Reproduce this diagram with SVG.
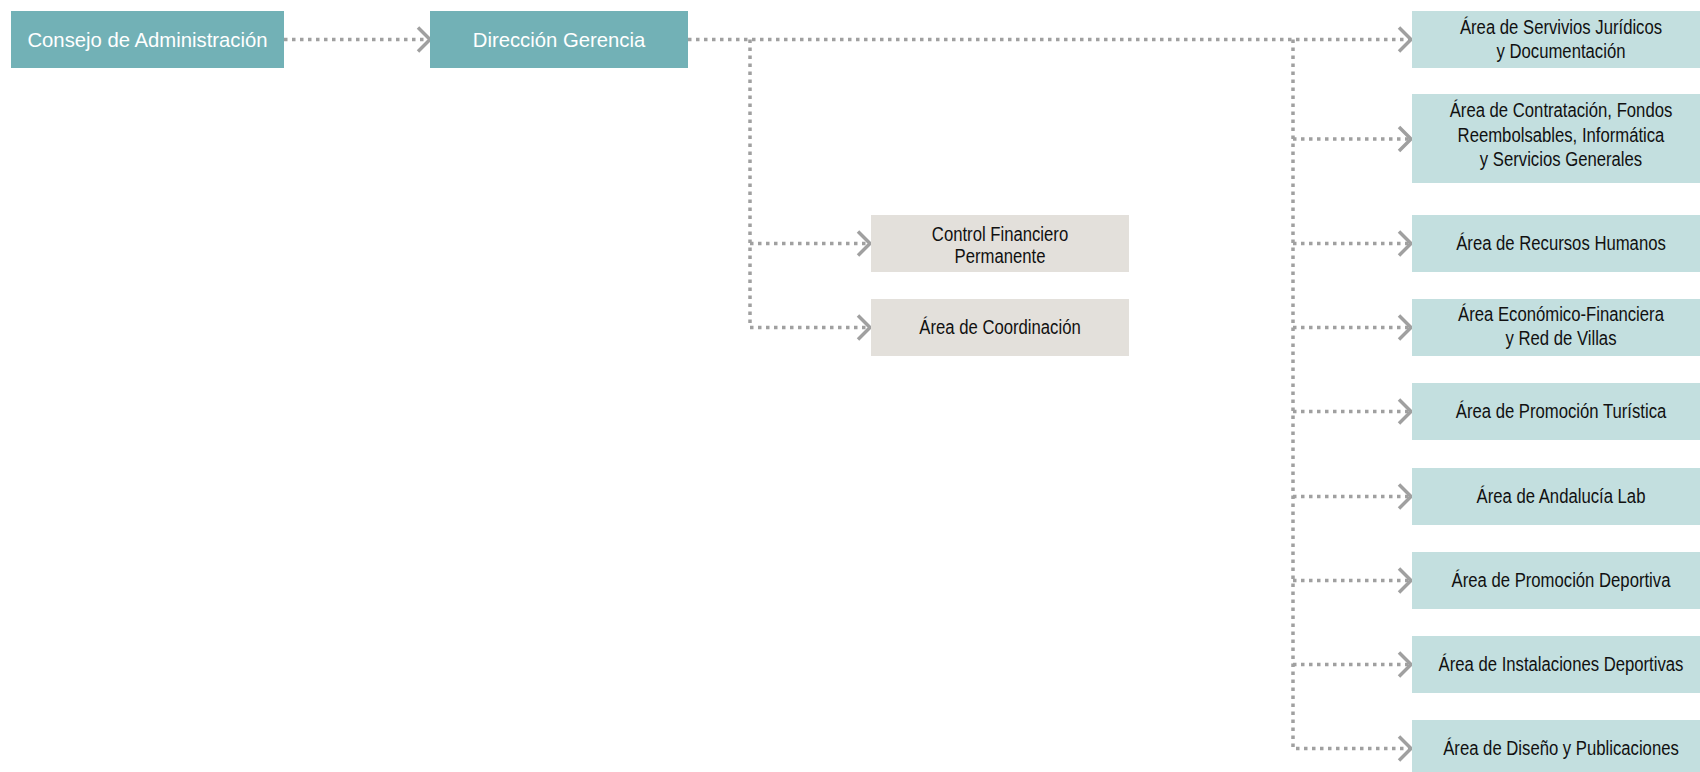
<svg xmlns="http://www.w3.org/2000/svg" width="1700" height="772" viewBox="0 0 1700 772">
<style>
.dark{fill:#72b1b6}
.light{fill:#c3dfdf}
.beige{fill:#e3e0db}
.tw{font-family:"Liberation Sans",Arial,sans-serif;font-size:20.3px;fill:#ffffff;text-anchor:middle}
.tb{font-family:"Liberation Sans",Arial,sans-serif;font-size:20px;fill:#111111;text-anchor:middle}
.c{fill:none;stroke:#a0a0a0;stroke-width:3.5;stroke-dasharray:3.5 4.5}
</style>
<defs>
<marker id="chev" markerUnits="userSpaceOnUse" markerWidth="20" markerHeight="30" viewBox="-2 -2 20 30" refX="13" refY="12" orient="auto">
<path d="M1,0 L13,12 L1,24" fill="none" stroke="#a0a0a0" stroke-width="3.5"/>
</marker>
</defs>
<rect width="1700" height="772" fill="#ffffff"/>
<g id="connectors">
<path class="c" d="M284,39.5 H430" marker-end="url(#chev)"/>
<path class="c" d="M688,39.5 H1411" marker-end="url(#chev)"/>
<path class="c" d="M750,39.5 V327.5 H870" marker-end="url(#chev)"/>
<path class="c" d="M750,243.5 H870" marker-end="url(#chev)"/>
<path class="c" d="M1293,39.5 V748.5 H1411" marker-end="url(#chev)"/>
<path class="c" d="M1293,139 H1411" marker-end="url(#chev)"/>
<path class="c" d="M1293,243.5 H1411" marker-end="url(#chev)"/>
<path class="c" d="M1293,327.5 H1411" marker-end="url(#chev)"/>
<path class="c" d="M1293,411.5 H1411" marker-end="url(#chev)"/>
<path class="c" d="M1293,496.5 H1411" marker-end="url(#chev)"/>
<path class="c" d="M1293,580.5 H1411" marker-end="url(#chev)"/>
<path class="c" d="M1293,664.5 H1411" marker-end="url(#chev)"/>
</g>
<g id="consejo"><rect class="dark" x="11" y="11" width="273" height="57"/><text class="tw" x="147.5" y="46.5">Consejo de Administración</text></g>
<g id="direccion"><rect class="dark" x="430" y="11" width="258" height="57"/><text class="tw" x="559" y="46.5">Dirección Gerencia</text></g>
<g id="control"><rect class="beige" x="871" y="215" width="258" height="57"/><text class="tb" transform="matrix(0.835,0,0,1,1000,0)" x="0" y="241">Control Financiero</text><text class="tb" transform="matrix(0.835,0,0,1,1000,0)" x="0" y="263">Permanente</text></g>
<g id="coordinacion"><rect class="beige" x="871" y="299" width="258" height="57"/><text class="tb" transform="matrix(0.835,0,0,1,1000,0)" x="0" y="334">Área de Coordinación</text></g>
<g id="juridicos"><rect class="light" x="1412" y="11" width="288" height="57"/><text class="tb" transform="matrix(0.835,0,0,1,1561,0)" x="0" y="34">Área de Servivios Jurídicos</text><text class="tb" transform="matrix(0.835,0,0,1,1561,0)" x="0" y="58">y Documentación</text></g>
<g id="contratacion"><rect class="light" x="1412" y="94" width="288" height="89"/><text class="tb" transform="matrix(0.835,0,0,1,1561,0)" x="0" y="117.5">Área de Contratación, Fondos</text><text class="tb" transform="matrix(0.835,0,0,1,1561,0)" x="0" y="142">Reembolsables, Informática</text><text class="tb" transform="matrix(0.835,0,0,1,1561,0)" x="0" y="166">y Servicios Generales</text></g>
<g id="rrhh"><rect class="light" x="1412" y="215" width="288" height="57"/><text class="tb" transform="matrix(0.835,0,0,1,1561,0)" x="0" y="250">Área de Recursos Humanos</text></g>
<g id="economico"><rect class="light" x="1412" y="299" width="288" height="57"/><text class="tb" transform="matrix(0.835,0,0,1,1561,0)" x="0" y="321">Área Económico-Financiera</text><text class="tb" transform="matrix(0.835,0,0,1,1561,0)" x="0" y="345">y Red de Villas</text></g>
<g id="turistica"><rect class="light" x="1412" y="383" width="288" height="57"/><text class="tb" transform="matrix(0.835,0,0,1,1561,0)" x="0" y="418">Área de Promoción Turística</text></g>
<g id="lab"><rect class="light" x="1412" y="468" width="288" height="57"/><text class="tb" transform="matrix(0.835,0,0,1,1561,0)" x="0" y="503">Área de Andalucía Lab</text></g>
<g id="deportiva"><rect class="light" x="1412" y="552" width="288" height="57"/><text class="tb" transform="matrix(0.835,0,0,1,1561,0)" x="0" y="587">Área de Promoción Deportiva</text></g>
<g id="instalaciones"><rect class="light" x="1412" y="636" width="288" height="57"/><text class="tb" transform="matrix(0.835,0,0,1,1561,0)" x="0" y="671">Área de Instalaciones Deportivas</text></g>
<g id="diseno"><rect class="light" x="1412" y="720" width="288" height="52"/><text class="tb" transform="matrix(0.835,0,0,1,1561,0)" x="0" y="755">Área de Diseño y Publicaciones</text></g>
</svg>
